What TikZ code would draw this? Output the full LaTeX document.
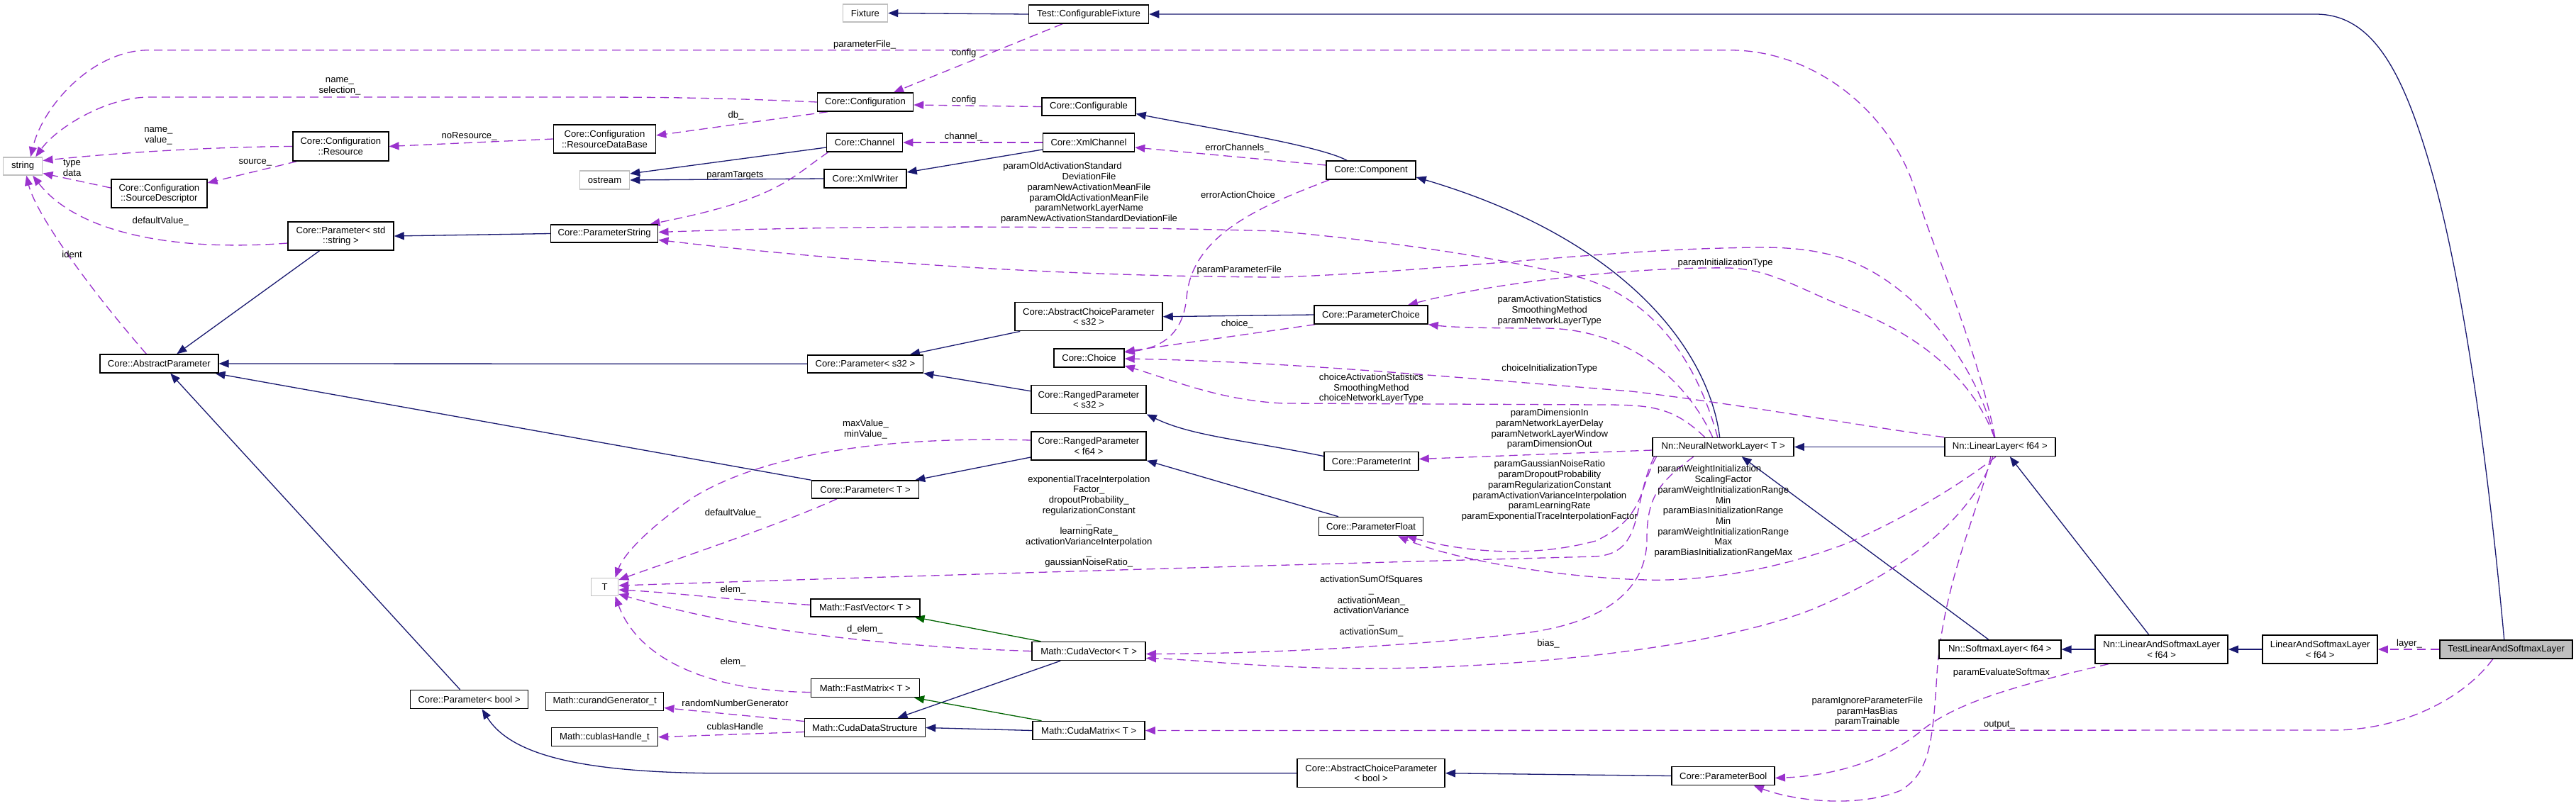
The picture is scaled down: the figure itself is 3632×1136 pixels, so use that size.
\documentclass[tikz,border=0pt]{standalone}
\usepackage{fontspec}
\setmainfont{Liberation Sans}
\usetikzlibrary{arrows.meta}
\pgfdeclarelayer{background}
\pgfsetlayers{background,main}
\definecolor{navyblue}{HTML}{191970}
\definecolor{orchid}{HTML}{9A32CD}
\definecolor{dkgreen}{HTML}{006400}
\definecolor{boxgray}{HTML}{BFBFBF}
\newcommand\dxfont{\fontsize{13.1pt}{14.7pt}\selectfont}
\tikzset{
  box/.style={draw=black, line width=1.5pt, fill=white, inner sep=0pt, align=center, font=\dxfont},
  gbox/.style={box, draw=boxgray},
  inh/.style={draw=navyblue, line width=1.3pt, -{Triangle[length=14pt,width=11pt]}},
  prot/.style={inh, draw=dkgreen},
  use/.style={draw=orchid, line width=1.3pt, dash pattern=on 12pt off 7pt, -{Triangle[length=14pt,width=11pt]}},
  lbl/.style={inner sep=0pt, align=center, font=\dxfont}
}
\begin{document}
\begin{tikzpicture}[x=1pt,y=-1pt]
\useasboundingbox (0,0) rectangle (3632,1136);
\begin{pgfonlayer}{background}
\fill[white] (0,0) rectangle (3632,1136);
\end{pgfonlayer}
% ---------- nodes ----------
\node[gbox, minimum width=55pt, minimum height=25pt] (string) at (32.2,234.5) {string};
\node[box, minimum width=135pt, minimum height=41pt] (res) at (480.3,206.5) {Core::Configuration\\::Resource};
\node[box, minimum width=135pt, minimum height=40pt] (srcdesc) at (224.3,273) {Core::Configuration\\::SourceDescriptor};
\node[box, minimum width=144pt, minimum height=40pt] (resdb) at (852.5,196) {Core::Configuration\\::ResourceDataBase};
\node[gbox, minimum width=70pt, minimum height=26pt] (ostream) at (852.5,254) {ostream};
\node[box, minimum width=149pt, minimum height=40pt] (pstdstr) at (480.5,333) {Core::Parameter< std\\::string >};
\node[box, minimum width=151pt, minimum height=25pt] (pstring) at (852.2,329.5) {Core::ParameterString};
\node[gbox, minimum width=63pt, minimum height=25pt] (fixture) at (1220,18.5) {Fixture};
\node[box, minimum width=169pt, minimum height=26pt] (cfix) at (1535,20) {Test::ConfigurableFixture};
\node[box, minimum width=135pt, minimum height=26pt] (config) at (1220,144) {Core::Configuration};
\node[box, minimum width=132pt, minimum height=25pt] (configurable) at (1535,150.5) {Core::Configurable};
\node[box, minimum width=107pt, minimum height=26pt] (channel) at (1219,201) {Core::Channel};
\node[box, minimum width=129pt, minimum height=26pt] (xmlchannel) at (1535,201) {Core::XmlChannel};
\node[box, minimum width=116pt, minimum height=26pt] (xmlwriter) at (1220,252) {Core::XmlWriter};
\node[box, minimum width=126pt, minimum height=26pt] (component) at (1933,240) {Core::Component};
\node[box, minimum width=167pt, minimum height=26pt] (absparam) at (224.3,513) {Core::AbstractParameter};
\node[box, minimum width=208pt, minimum height=40pt] (acps32) at (1535,446.7) {Core::AbstractChoiceParameter\\< s32 >};
\node[box, minimum width=163pt, minimum height=25pt] (ps32) at (1220,513.3) {Core::Parameter< s32 >};
\node[box, minimum width=99pt, minimum height=26pt] (choice) at (1535.5,505) {Core::Choice};
\node[box, minimum width=162pt, minimum height=40pt] (rps32) at (1535,563.7) {Core::RangedParameter\\< s32 >};
\node[box, minimum width=162pt, minimum height=40pt] (rpf64) at (1535,629) {Core::RangedParameter\\< f64 >};
\node[box, minimum width=151pt, minimum height=25pt] (pT) at (1220,690.5) {Core::Parameter< T >};
\node[box, minimum width=160pt, minimum height=26pt] (pchoice) at (1933,444) {Core::ParameterChoice};
\node[box, minimum width=133pt, minimum height=26pt] (pint) at (1933.5,650.5) {Core::ParameterInt};
\node[box, minimum width=147pt, minimum height=26pt] (pfloat) at (1933,742.5) {Core::ParameterFloat};
\node[box, minimum width=199pt, minimum height=26pt] (nnl) at (2429.7,630.5) {Nn::NeuralNetworkLayer< T >};
\node[box, minimum width=156pt, minimum height=26pt] (linl) at (2819.8,630.5) {Nn::LinearLayer< f64 >};
\node[gbox, minimum width=38pt, minimum height=25pt] (T) at (852.5,828) {T};
\node[box, minimum width=166pt, minimum height=26pt] (pbool) at (661.6,986.5) {Core::Parameter< bool >};
\node[box, minimum width=166pt, minimum height=26pt] (curand) at (852.7,989.5) {Math::curandGenerator\_t};
\node[box, minimum width=150pt, minimum height=26pt] (cublas) at (852.5,1039.7) {Math::cublasHandle\_t};
\node[box, minimum width=154pt, minimum height=25pt] (fastvec) at (1219.8,857.3) {Math::FastVector< T >};
\node[box, minimum width=160pt, minimum height=26pt] (cudavec) at (1535.2,918.5) {Math::CudaVector< T >};
\node[box, minimum width=153pt, minimum height=26pt] (fastmat) at (1219.8,970.5) {Math::FastMatrix< T >};
\node[box, minimum width=170pt, minimum height=26pt] (cds) at (1219.5,1026.5) {Math::CudaDataStructure};
\node[box, minimum width=158pt, minimum height=26pt] (cudamat) at (1535.2,1030.5) {Math::CudaMatrix< T >};
\node[box, minimum width=208pt, minimum height=40pt] (acpbool) at (1933.2,1090.7) {Core::AbstractChoiceParameter\\< bool >};
\node[box, minimum width=145pt, minimum height=26pt] (pbool2) at (2429.7,1094.5) {Core::ParameterBool};
\node[box, minimum width=172pt, minimum height=26pt] (softmax) at (2819.8,916) {Nn::SoftmaxLayer< f64 >};
\node[box, minimum width=187pt, minimum height=40pt] (nlsl) at (3047.7,916) {Nn::LinearAndSoftmaxLayer\\< f64 >};
\node[box, minimum width=162pt, minimum height=40pt] (lsl) at (3271.2,916) {LinearAndSoftmaxLayer\\< f64 >};
\node[box, fill=boxgray, minimum width=187pt, minimum height=26pt] (test) at (3533.7,916) {TestLinearAndSoftmaxLayer};
% ---------- edges ----------
\begin{pgfonlayer}{background}
% inheritance
\draw[inh] (cfix.west) -- (fixture.east);
\draw[inh] ([xshift=-3pt]test.north) .. controls (3505,620) and (3468,380) .. (3428,240) .. controls (3388,100) and (3345,20) .. (3265,20) -- (cfix.east);
\draw[inh] ([yshift=-7pt]channel.west) -- ([yshift=9pt]ostream.east);
\draw[inh] (xmlwriter.west) -- (ostream.east);
\draw[inh] ([yshift=-10pt]xmlchannel.west) -- ([yshift=9pt]xmlwriter.east);
\draw[inh] ([xshift=-34pt]component.north) .. controls (1860,205) and (1700,180) .. ([yshift=-10pt]configurable.east);
\draw[inh] ([xshift=-5pt]nnl.north) .. controls (2410,500) and (2300,340) .. ([yshift=-10pt]component.east);
\draw[inh] (pstring.west) -- (pstdstr.east);
\draw[inh] ([xshift=-30pt]pstdstr.south) -- ([xshift=25pt]absparam.north);
\draw[inh] (ps32.west) -- (absparam.east);
\draw[inh] (pT.north west) -- ([xshift=-5pt]absparam.south east);
\draw[inh] ([xshift=-13pt]pbool.north) -- ([xshift=16pt]absparam.south);
\draw[inh] ([xshift=8pt]acps32.south west) -- ([xshift=63pt]ps32.north);
\draw[inh] ([yshift=12pt]rps32.west) -- (ps32.south east);
\draw[inh] ([yshift=-16pt]rpf64.west) -- ([xshift=-6pt]pT.north east);
\draw[inh] (pchoice.west) -- (acps32.east);
\draw[inh] ([yshift=7pt]pint.west) .. controls (1750,620) and (1680,615) .. (rps32.south east);
\draw[inh] ([xshift=-46pt]pfloat.north) -- (rpf64.south east);
\draw[inh] (linl.west) -- (nnl.east);
\draw[inh] ([xshift=-16pt]softmax.north) -- ([xshift=26pt]nnl.south);
\draw[inh] ([xshift=-18pt]nlsl.north) -- ([xshift=14pt]linl.south);
\draw[inh] (nlsl.west) -- (softmax.east);
\draw[inh] (lsl.west) -- (nlsl.east);
\draw[inh] ([xshift=-40pt]cudavec.south) -- ([xshift=46pt]cds.north);
\draw[inh] (cudamat.west) -- (cds.east);
\draw[inh] (pbool2.west) -- (acpbool.east);
\draw[inh] (acpbool.west) -- (1050,1090.7) .. controls (820,1093) and (720,1065) .. ([xshift=18pt]pbool.south);
\draw[prot] ([xshift=13pt]cudavec.north west) -- ([xshift=-8pt]fastvec.south east);
\draw[prot] ([xshift=13pt]cudamat.north west) -- ([xshift=-8pt]fastmat.south east);
% usage
\draw[use] ([xshift=-37pt]cfix.south) -- ([xshift=40pt]config.north);
\draw[use] (configurable.west) -- ([yshift=-4pt]config.east);
\draw[use] (config.west) .. controls (1000,137) and (900,137) .. (800,137) -- (210,137) .. controls (150,137) and (80,180) .. ([xshift=18pt]string.north);
\draw[use] ([xshift=-53pt]config.south) -- ([yshift=5pt]resdb.east);
\draw[use] (resdb.west) -- (res.east);
\draw[use] (res.west) .. controls (330,207) and (200,212) .. ([yshift=8pt]string.east);
\draw[use] ([xshift=-62pt]res.south) -- ([yshift=15pt]srcdesc.east);
\draw[use] ([yshift=8pt]srcdesc.west) -- ([yshift=-10pt]string.east);
\draw[use] ([yshift=-10pt]pstdstr.west) .. controls (250,355) and (110,330) .. ([xshift=14pt]string.south);
\draw[use] ([xshift=-18pt]absparam.north) .. controls (120,400) and (50,300) .. ([xshift=5pt]string.south);
\draw[use] ([xshift=-7pt]linl.north) .. controls (2790,500) and (2730,360) .. (2703,277) .. controls (2670,160) and (2560,70.7) .. (2438,70.7) -- (210,70.7) .. controls (130,70.7) and (60,150) .. ([xshift=11pt]string.north);
\draw[use] (xmlchannel.west) -- (channel.east);
\draw[use] ([xshift=3pt]channel.south west) .. controls (1115,250) and (1100,280) .. ([xshift=-12pt]pstring.north east);
\draw[use] ([yshift=7pt]component.west) -- ([yshift=-7pt]xmlchannel.east);
\draw[use] ([xshift=5pt]component.south west) .. controls (1780,290) and (1680,330) .. (1673,420) .. controls (1668,470) and (1640,490) .. ([yshift=8pt]choice.east);
\draw[use] ([xshift=-8pt]nnl.north) .. controls (2395,520) and (2340,425) .. (2230,392) .. controls (2100,360) and (1950,340) .. (1800,326) .. controls (1500,318) and (1200,318) .. ([yshift=2pt]pstring.east);
\draw[use] ([xshift=-8pt]linl.north) .. controls (2785,510) and (2700,400) .. (2600,365) .. controls (2540,345) and (2480,349) .. (2430,350) .. controls (2250,354) and (2000,385) .. (1800,391) .. controls (1500,390) and (1200,370) .. ([yshift=-9pt]pstring.east);
\draw[use] ([xshift=-8pt]linl.north) .. controls (2780,530) and (2700,470) .. (2612,437) .. controls (2540,410) and (2500,380) .. (2438,378) .. controls (2300,376) and (2100,400) .. ([xshift=52pt]pchoice.north);
\draw[use] ([xshift=2pt]pchoice.south west) -- ([yshift=9pt]choice.east);
\draw[use] ([xshift=-26pt]nnl.north) .. controls (2360,575) and (2330,571) .. (2260,571) -- (1810,569) .. controls (1720,565) and (1650,535) .. ([yshift=-11pt]choice.east);
\draw[use] (linl.north west) .. controls (2620,600) and (2450,570) .. (2300,552) .. controls (2000,528) and (1800,510) .. ([yshift=-1pt]choice.east);
\draw[use] ([xshift=-15pt]nnl.north) .. controls (2380,540) and (2300,465) .. (2180,463) .. controls (2100,463) and (2050,462) .. (pchoice.south east);
\draw[use] ([yshift=-4.5pt]nnl.west) -- ([yshift=3pt]pint.east);
\draw[use] ([xshift=6pt]nnl.south west) .. controls (2310,690) and (2320,730) .. (2250,763) .. controls (2150,790) and (2050,775) .. ([xshift=50pt]pfloat.south);
\draw[use] ([xshift=-6pt]linl.south) .. controls (2770,680) and (2680,735) .. (2600,768) .. controls (2500,805) and (2400,820) .. (2322,818) .. controls (2200,815) and (2050,790) .. ([xshift=38pt]pfloat.south);
\draw[use] ([yshift=8pt]rpf64.west) .. controls (1250,615) and (1080,640) .. (980,700) .. controls (920,740) and (880,780) .. ([xshift=15pt]T.north);
\draw[use] ([xshift=-40pt]pT.south) .. controls (1100,740) and (950,790) .. ([yshift=10pt]T.east);
\draw[use] ([xshift=3pt]nnl.south west) .. controls (2300,710) and (2320,780) .. (2250,785) .. controls (1800,797) and (1300,812) .. ([yshift=2pt]T.east);
\draw[use] ([yshift=4pt]fastvec.west) .. controls (1050,848) and (950,836) .. ([yshift=-4pt]T.east);
\draw[use] (cudavec.west) .. controls (1250,912) and (1050,890) .. ([yshift=-10pt]T.east);
\draw[use] ([yshift=-6pt]fastmat.west) .. controls (1000,975) and (900,930) .. ([xshift=15pt]T.south);
\draw[use] ([yshift=9pt]cds.west) -- ([yshift=-9pt]curand.east);
\draw[use] ([yshift=-6pt]cds.west) -- (cublas.east);
\draw[use] ([xshift=-42pt]nnl.south) .. controls (2340,680) and (2322,700) .. (2322,760) .. controls (2322,840) and (2250,880) .. (2150,893) .. controls (2000,910) and (1800,922) .. ([yshift=-4pt]cudavec.east);
\draw[use] ([xshift=-10pt]linl.south) .. controls (2785,720) and (2700,800) .. (2554,860) .. controls (2400,920) and (2100,945) .. (1900,943) .. controls (1750,940) and (1680,930) .. ([yshift=-10pt]cudavec.east);
\draw[use] ([xshift=-19pt]test.south) .. controls (3470,990) and (3380,1030) .. (3290,1030) -- (cudamat.east);
\draw[use] ([xshift=-75pt]nlsl.south) .. controls (2850,965) and (2760,990) .. (2710,1030) .. controls (2650,1080) and (2570,1095) .. ([yshift=-3pt]pbool2.east);
\draw[use] ([xshift=-13pt]linl.south) .. controls (2790,720) and (2740,820) .. (2731,950) .. controls (2725,1050) and (2720,1090) .. (2680,1115) .. controls (2620,1140) and (2530,1130) .. ([xshift=43pt]pbool2.south);
\draw[use] (test.west) -- (lsl.east);
\end{pgfonlayer}
% ---------- labels ----------
\node[lbl] (l1) at (1359,75) {config};
\node[lbl] (l2) at (1359,141) {config};
\node[lbl] (l3) at (479,121.7) {name\_\\selection\_};
\node[lbl] (l4) at (1037.5,163) {db\_};
\node[lbl] (l5) at (661.6,192) {noResource\_};
\node[lbl] (l6) at (223.4,191.5) {name\_\\value\_};
\node[lbl] (l7) at (359.8,229.3) {source\_};
\node[lbl] (l8) at (101.6,236.7) {type\\data};
\node[lbl] (l9) at (226.3,311.7) {defaultValue\_};
\node[lbl] (l10) at (101.6,359) {ident};
\node[lbl] (l11) at (1219.2,62.7) {parameterFile\_};
\node[lbl] (l12) at (1358.5,192.7) {channel\_};
\node[lbl] (l13) at (1036.4,247.7) {paramTargets};
\node[lbl] (l14) at (1744.4,209) {errorChannels\_};
\node[lbl] (l15) at (1745.6,275) {errorActionChoice};
\node[lbl] (l16) at (1535.5,272.3) {paramOldActivationStandard\hspace*{75pt}\\DeviationFile\\paramNewActivationMeanFile\\paramOldActivationMeanFile\\paramNetworkLayerName\\paramNewActivationStandardDeviationFile};
\node[lbl] (l17) at (1747.3,380.7) {paramParameterFile};
\node[lbl] (l18) at (2432.6,370.7) {paramInitializationType};
\node[lbl] (l19) at (1744.4,456.7) {choice\_};
\node[lbl] (l20) at (1933.5,547.7) {choiceActivationStatistics\\SmoothingMethod\\choiceNetworkLayerType};
\node[lbl] (l21) at (2184.8,519.7) {choiceInitializationType};
\node[lbl] (l22) at (2184.8,438) {paramActivationStatistics\\SmoothingMethod\\paramNetworkLayerType};
\node[lbl] (l23) at (2184.8,605.3) {paramDimensionIn\\paramNetworkLayerDelay\\paramNetworkLayerWindow\\paramDimensionOut};
\node[lbl] (l24) at (2184.8,692.3) {paramGaussianNoiseRatio\\paramDropoutProbability\\paramRegularizationConstant\\paramActivationVarianceInterpolation\\paramLearningRate\\paramExponentialTraceInterpolationFactor};
\node[lbl] (l25) at (2429.7,721.3) {paramWeightInitialization\hspace*{39pt}\\ScalingFactor\\paramWeightInitializationRange\hspace*{9pt}\\Min\\paramBiasInitializationRange\hspace*{25pt}\\Min\\paramWeightInitializationRange\hspace*{9pt}\\Max\\paramBiasInitializationRangeMax};
\node[lbl] (l26) at (1220.5,605.7) {maxValue\_\\minValue\_};
\node[lbl] (l27) at (1033.5,724) {defaultValue\_};
\node[lbl] (l28) at (1535.3,735.5) {exponentialTraceInterpolation\\Factor\_\\dropoutProbability\_\\regularizationConstant\hspace*{49pt}\\\_\\learningRate\_\\activationVarianceInterpolation\\\_\\gaussianNoiseRatio\_};
\node[lbl] (l29) at (1033.5,831.7) {elem\_};
\node[lbl] (l30) at (1219.2,888.3) {d\_elem\_};
\node[lbl] (l31) at (1033.5,934.3) {elem\_};
\node[lbl] (l32) at (1036.4,991.7) {randomNumberGenerator};
\node[lbl] (l33) at (1036.4,1025) {cublasHandle};
\node[lbl] (l34) at (1933.5,855) {activationSumOfSquares\\\_\\activationMean\_\\activationVariance\hspace*{41pt}\\\_\\activationSum\_};
\node[lbl] (l35) at (2183,907.7) {bias\_};
\node[lbl] (l36) at (2632.8,1003.8) {paramIgnoreParameterFile\\paramHasBias\\paramTrainable};
\node[lbl] (l37) at (2821.9,949) {paramEvaluateSoftmax};
\node[lbl] (l38) at (2818.9,1022.7) {output\_};
\node[lbl] (l39) at (3397,907.7) {layer\_};
\end{tikzpicture}
\end{document}
